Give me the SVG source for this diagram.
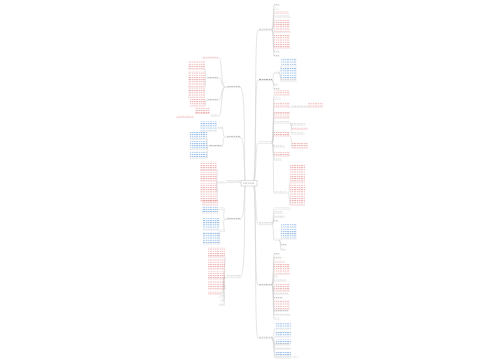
<svg xmlns="http://www.w3.org/2000/svg" width="500" height="360" viewBox="0 0 500 360">
<defs>
<pattern id="pr" width="7" height="2.2" patternUnits="userSpaceOnUse"><rect width="2.2" height="0.9" fill="#e07c7c"/><rect x="2.9" width="1.6" height="0.9" fill="#e07c7c"/><rect x="5" width="1.5" height="0.9" fill="#e07c7c"/></pattern>
<pattern id="pb" width="7" height="2.2" patternUnits="userSpaceOnUse"><rect width="2.2" height="0.9" fill="#4f8fd6"/><rect x="2.9" width="1.6" height="0.9" fill="#4f8fd6"/><rect x="5" width="1.5" height="0.9" fill="#4f8fd6"/></pattern>
<pattern id="pg" width="7" height="2.2" patternUnits="userSpaceOnUse"><rect width="2.2" height="0.9" fill="#777"/><rect x="2.9" width="1.6" height="0.9" fill="#777"/><rect x="5" width="1.5" height="0.9" fill="#777"/></pattern>
</defs>
<style>
.ln{fill:none;stroke:#d4d4d4;stroke-width:0.6}
.r{fill:url(#pr);opacity:.6}
.b{fill:url(#pb);opacity:.6}
.g{fill:url(#pg);opacity:.55}
.lb{fill:url(#pg);opacity:.7}
.ul{stroke:#d6d6d6;stroke-width:0.5}
.ulr{stroke:#eab0b0;stroke-width:0.5}
</style>
<rect width="500" height="360" fill="#fff"/>
<g id="connectors">
<path class="ln" d="M246,183 C243,183 247,87 240,87"/>
<path class="ln" d="M246,183 C243,183 246,137 240,137"/>
<path class="ln" d="M241,183 L240,182"/>
<path class="ln" d="M246,184 C243,184 246,219 240,219"/>
<path class="ln" d="M246,184 C243,184 247,277 240,277"/>
<path class="ln" d="M253,183 C257,183 254,30 258,30"/>
<path class="ln" d="M253,183 C257,183 254,80 258,80"/>
<path class="ln" d="M253,183 C257,183 255,143 258,143"/>
<path class="ln" d="M253,183 C257,183 255,224 258,224"/>
<path class="ln" d="M253,183 C257,183 254,285 258,285"/>
<path class="ln" d="M253,183 C257,183 254,338 258,338"/>
<path class="ln" d="M225,87 C221,87 222,58 219,58"/>
<path class="ln" d="M225,87 C221,87 222,78 219,78"/>
<path class="ln" d="M225,87 C221,87 222,100 219,100"/>
<path class="ln" d="M225,87 C221,87 222,116 219,116"/>
<path class="ln" d="M206,78 C205,78 206,69 205,69"/>
<path class="ln" d="M206,78 C205,78 206,87 205,87"/>
<path class="ln" d="M206,100 C205,100 206,106 205,106"/>
<path class="ln" d="M225,137 C222,137 224,128 222,128"/>
<path class="ln" d="M225,137 C222,137 224,146 222,146"/>
<path class="ln" d="M208,146 C206,146 208,139 207,139"/>
<path class="ln" d="M208,146 C206,146 208,149 207,149"/>
<path class="ln" d="M208,146 C206,146 208,158 207,158"/>
<path class="ln" d="M217,183 C216,183 218,170 217,170"/>
<path class="ln" d="M217,183 C216,183 218,181 217,181"/>
<path class="ln" d="M217,183 C216,183 218,192 217,192"/>
<path class="ln" d="M217,183 C216,183 218,201 217,201"/>
<path class="ln" d="M225,219 C222,219 225,209 224,209"/>
<path class="ln" d="M225,219 C222,219 225,231 224,231"/>
<path class="ln" d="M220,231 C219,231 220,244 220,244"/>
<path class="ln" d="M225,277 C222,277 226,257 225,257"/>
<path class="ln" d="M225,277 C222,277 226,269 225,269"/>
<path class="ln" d="M225,277 C222,277 226,279 225,279"/>
<path class="ln" d="M225,277 C222,277 226,289 225,289"/>
<path class="ln" d="M225,277 C222,277 224,294 222,294"/>
<path class="ln" d="M225,277 C222,277 225,297 224,297"/>
<path class="ln" d="M225,277 C222,277 225,301 224,301"/>
<path class="ln" d="M225,277 C222,277 225,305 224,305"/>
<path class="ln" d="M272,30 C274,30 273,5 274,5"/>
<path class="ln" d="M272,30 C274,30 273,9 274,9"/>
<path class="ln" d="M272,30 C274,30 273,13 274,13"/>
<path class="ln" d="M272,30 C274,30 273,17 274,17"/>
<path class="ln" d="M272,30 C274,30 273,32 274,32"/>
<path class="ln" d="M272,30 C274,30 273,48 274,48"/>
<path class="ln" d="M272,30 C274,30 273,52 274,52"/>
<path class="ln" d="M272,30 C274,30 273,56 274,56"/>
<path class="ln" d="M272,80 C274,80 273,73 274,73"/>
<path class="ln" d="M279,73 C281,73 280,66 281,66"/>
<path class="ln" d="M279,73 C281,73 280,79 281,79"/>
<path class="ln" d="M279,73 C281,73 280,81 281,81"/>
<path class="ln" d="M272,80 C274,80 273,85 274,85"/>
<path class="ln" d="M272,80 C274,80 273,89 274,89"/>
<path class="ln" d="M272,143 C274,143 273,95 274,95"/>
<path class="ln" d="M272,143 C274,143 273,99 274,99"/>
<path class="ln" d="M272,143 C274,143 273,107 274,107"/>
<path class="ln" d="M272,143 C274,143 273,113 274,113"/>
<path class="ln" d="M272,143 C274,143 273,118 274,118"/>
<path class="ln" d="M272,143 C274,143 273,123 274,123"/>
<path class="ln" d="M272,143 C274,143 273,136 274,136"/>
<path class="ln" d="M272,143 C274,143 273,147 274,147"/>
<path class="ln" d="M272,143 C274,143 273,156 274,156"/>
<path class="ln" d="M272,143 C274,143 273,160 274,160"/>
<path class="ln" d="M272,143 C274,143 273,193 274,193"/>
<path class="ln" d="M290,123 C292,123 291,125 292,125"/>
<path class="ln" d="M290,123 C292,123 291,129 292,129"/>
<path class="ln" d="M290,123 C292,123 291,134 292,134"/>
<path class="ln" d="M290,136 C292,136 291,148 292,148"/>
<path class="ln" d="M288,193 C290,193 289,182 290,182"/>
<path class="ln" d="M288,193 C290,193 289,205 290,205"/>
<path class="ln" d="M272,224 C274,224 273,209 274,209"/>
<path class="ln" d="M272,224 C274,224 273,213 274,213"/>
<path class="ln" d="M272,224 C274,224 273,217 274,217"/>
<path class="ln" d="M272,224 C274,224 273,221 274,221"/>
<path class="ln" d="M272,224 C274,224 273,240 274,240"/>
<path class="ln" d="M279,240 C281,240 280,239 281,239"/>
<path class="ln" d="M279,240 C281,240 280,245 281,245"/>
<path class="ln" d="M279,240 C281,240 280,250 281,250"/>
<path class="ln" d="M272,285 C274,285 273,254 274,254"/>
<path class="ln" d="M272,285 C274,285 273,258 274,258"/>
<path class="ln" d="M272,285 C274,285 273,262 274,262"/>
<path class="ln" d="M272,285 C274,285 273,274 274,274"/>
<path class="ln" d="M272,285 C274,285 273,277 274,277"/>
<path class="ln" d="M272,285 C274,285 273,281 274,281"/>
<path class="ln" d="M272,285 C274,285 273,291 274,291"/>
<path class="ln" d="M272,285 C274,285 273,294 274,294"/>
<path class="ln" d="M272,285 C274,285 273,298 274,298"/>
<path class="ln" d="M272,285 C274,285 273,309 274,309"/>
<path class="ln" d="M272,285 C274,285 273,311 274,311"/>
<path class="ln" d="M272,285 C274,285 273,315 274,315"/>
<path class="ln" d="M272,285 C274,285 273,319 274,319"/>
<path class="ln" d="M272,338 C274,338 274,329 275,329"/>
<path class="ln" d="M272,338 C274,338 274,337 275,337"/>
<path class="ln" d="M272,338 C274,338 274,344 275,344"/>
<path class="ln" d="M272,338 C274,338 274,345 275,345"/>
<path class="ln" d="M272,338 C274,338 274,349 275,349"/>
<path class="ln" d="M272,338 C274,338 274,356 275,356"/>
<path class="ln" d="M272,338 C274,338 274,358 275,358"/>
</g>
<g id="center">
<rect x="241" y="180.5" width="16" height="5.5" fill="#fff" stroke="#bdbdbd" stroke-width="0.5"/>
<rect class="lb" x="243" y="182.3" width="12" height="1.6"/>
</g>
<g id="left1">
<rect class="lb" x="226" y="85.6" width="14" height="1.4"/><line class="ul" x1="225" y1="87.6" x2="241" y2="87.6"/>
<rect class="r" x="203" y="56" width="15" height="1.4"/><line class="ulr" x1="202" y1="58" x2="219" y2="58"/>
<rect class="r" x="188" y="61" width="17" height="7.5"/><line class="ulr" x1="188" y1="69" x2="205" y2="69"/>
<rect class="g" x="207" y="76.6" width="11" height="1.4"/><line class="ul" x1="206" y1="78.3" x2="219" y2="78.3"/>
<rect class="r" x="188" y="71" width="17" height="15.5"/><line class="ulr" x1="188" y1="87" x2="205" y2="87"/>
<rect class="r" x="188" y="88.5" width="17" height="8.5"/><line class="ulr" x1="188" y1="97.4" x2="205" y2="97.4"/>
<rect class="g" x="207" y="98.6" width="11" height="1.4"/><line class="ul" x1="206" y1="100.3" x2="219" y2="100.3"/>
<rect class="r" x="190" y="99" width="15" height="6.5"/><line class="ulr" x1="190" y1="106" x2="205" y2="106"/>
<rect class="r" x="195" y="107" width="15" height="6"/><line class="ulr" x1="195" y1="113.5" x2="210" y2="113.5"/>
<rect class="g" x="211" y="114.6" width="7" height="1.4"/><line class="ul" x1="210" y1="116.3" x2="219" y2="116.3"/>
<rect class="r" x="177" y="115.6" width="16" height="1.4"/><line class="ulr" x1="176" y1="117.4" x2="194" y2="117.4"/>
</g>
<g id="left2">
<rect class="lb" x="226" y="135.6" width="14" height="1.4"/><line class="ul" x1="225" y1="137.6" x2="241" y2="137.6"/>
<rect class="g" x="218" y="126.6" width="5" height="1.4"/><line class="ul" x1="217" y1="128.3" x2="223" y2="128.3"/>
<rect class="b" x="200" y="121.5" width="17" height="9"/><line class="ul" x1="200" y1="131" x2="217" y2="131"/>
<rect class="g" x="209" y="144.6" width="13" height="1.4"/><line class="ul" x1="208" y1="146.3" x2="223" y2="146.3"/>
<rect class="b" x="190" y="131.5" width="17" height="7.5"/><line class="ul" x1="190" y1="139.4" x2="207" y2="139.4"/>
<rect class="b" x="190" y="141" width="17" height="8"/><line class="ul" x1="190" y1="149.4" x2="207" y2="149.4"/>
<rect class="b" x="190" y="151" width="17" height="7"/><line class="ul" x1="190" y1="158.4" x2="207" y2="158.4"/>
</g>
<g id="left3">
<rect class="lb" x="226" y="180.6" width="14" height="1.4"/><line class="ul" x1="225" y1="182.6" x2="241" y2="182.6"/>
<rect class="g" x="218" y="181" width="6" height="1.4"/><line class="ul" x1="217" y1="183" x2="225" y2="183"/>
<rect class="r" x="200" y="161.5" width="17" height="8.5"/><line class="ulr" x1="200" y1="170.4" x2="217" y2="170.4"/>
<rect class="r" x="200" y="172" width="17" height="8.5"/><line class="ulr" x1="200" y1="181" x2="217" y2="181"/>
<rect class="r" x="200" y="183" width="17" height="8.5"/><line class="ulr" x1="200" y1="192" x2="217" y2="192"/>
<rect class="r" x="200" y="193.5" width="17" height="7"/><line class="ulr" x1="200" y1="201" x2="217" y2="201"/>
</g>
<g id="left4">
<rect class="lb" x="226" y="217.6" width="14" height="1.4"/><line class="ul" x1="225" y1="219.6" x2="241" y2="219.6"/>
<rect class="g" x="219" y="207.6" width="5" height="1.4"/><line class="ul" x1="218" y1="209.3" x2="225" y2="209.3"/>
<rect class="g" x="221" y="229.6" width="3" height="1.4"/><line class="ul" x1="220" y1="231.3" x2="225" y2="231.3"/>
<rect class="r" x="202" y="200" width="16" height="4.5"/><line class="ulr" x1="202" y1="205" x2="218" y2="205"/>
<rect class="b" x="202" y="206" width="16" height="6.5"/><line class="ul" x1="202" y1="213" x2="218" y2="213"/>
<rect class="b" x="203" y="218" width="17" height="11.5"/><line class="ul" x1="203" y1="230" x2="220" y2="230"/>
<rect class="b" x="203" y="232" width="17" height="11.5"/><line class="ul" x1="203" y1="244" x2="220" y2="244"/>
</g>
<g id="left5">
<rect class="lb" x="226" y="275.6" width="14" height="1.4"/><line class="ul" x1="225" y1="277.6" x2="241" y2="277.6"/>
<rect class="r" x="208" y="247" width="17" height="9.5"/><line class="ulr" x1="208" y1="257" x2="225" y2="257"/>
<rect class="r" x="208" y="259" width="17" height="9.5"/><line class="ulr" x1="208" y1="269" x2="225" y2="269"/>
<rect class="r" x="208" y="271" width="17" height="7.5"/><line class="ulr" x1="208" y1="279" x2="225" y2="279"/>
<rect class="r" x="208" y="281" width="17" height="7.5"/><line class="ulr" x1="208" y1="289" x2="225" y2="289"/>
<rect class="r" x="208" y="291" width="14" height="2.5"/><line class="ulr" x1="208" y1="294" x2="222" y2="294"/>
<rect class="g" x="219" y="295.6" width="5" height="1.2"/><line class="ul" x1="218" y1="297.2" x2="225" y2="297.2"/>
<rect class="g" x="221" y="299.6" width="3" height="1.2"/><line class="ul" x1="220" y1="301.2" x2="225" y2="301.2"/>
<rect class="g" x="219" y="303.6" width="5" height="1.2"/><line class="ul" x1="218" y1="305.2" x2="225" y2="305.2"/>
</g>
<g id="right1">
<rect class="lb" x="259" y="28.6" width="13" height="1.4"/><line class="ul" x1="258" y1="30.6" x2="273" y2="30.6"/>
<rect class="g" x="274" y="3.6" width="5" height="1.2"/><line class="ul" x1="274" y1="5.2" x2="280" y2="5.2"/>
<rect class="g" x="274" y="7.6" width="4" height="1.2"/><line class="ul" x1="274" y1="9.2" x2="279" y2="9.2"/>
<rect class="r" x="274" y="11.6" width="14" height="1.2"/><line class="ulr" x1="274" y1="13.2" x2="289" y2="13.2"/>
<rect class="g" x="274" y="15.6" width="16" height="1.2"/><line class="ul" x1="274" y1="17.2" x2="291" y2="17.2"/>
<rect class="r" x="274" y="19" width="16" height="12.5"/><line class="ulr" x1="274" y1="32" x2="291" y2="32"/>
<rect class="r" x="274" y="35" width="16" height="12.5"/><line class="ulr" x1="274" y1="48" x2="291" y2="48"/>
<rect class="g" x="274" y="50.6" width="5" height="1.2"/><line class="ul" x1="274" y1="52.2" x2="280" y2="52.2"/>
<rect class="g" x="274" y="54.6" width="5" height="1.2"/><line class="ul" x1="274" y1="56.2" x2="280" y2="56.2"/>
</g>
<g id="right2">
<rect class="lb" x="259" y="78.6" width="13" height="1.4"/><line class="ul" x1="258" y1="80.6" x2="273" y2="80.6"/>
<rect class="g" x="274" y="71.6" width="5" height="1.2"/><line class="ul" x1="274" y1="73.2" x2="280" y2="73.2"/>
<rect class="b" x="281" y="58" width="16" height="7.5"/><line class="ul" x1="281" y1="66" x2="297" y2="66"/>
<rect class="b" x="281" y="67" width="16" height="11.5"/><line class="ul" x1="281" y1="79" x2="297" y2="79"/>
<rect class="g" x="281" y="79.6" width="15" height="1.2"/><line class="ul" x1="281" y1="81.2" x2="297" y2="81.2"/>
<rect class="g" x="274" y="83.6" width="3" height="1.2"/><line class="ul" x1="274" y1="85.2" x2="278" y2="85.2"/>
<rect class="g" x="274" y="87.6" width="5" height="1.2"/><line class="ul" x1="274" y1="89.2" x2="280" y2="89.2"/>
</g>
<g id="right3">
<rect class="lb" x="259" y="141.6" width="13" height="1.4"/><line class="ul" x1="258" y1="143.6" x2="273" y2="143.6"/>
<rect class="r" x="274" y="90.5" width="16" height="4"/><line class="ulr" x1="274" y1="95" x2="290" y2="95"/>
<rect class="g" x="274" y="97.6" width="6" height="1.2"/><line class="ul" x1="274" y1="99.2" x2="281" y2="99.2"/>
<rect class="r" x="274" y="102.5" width="16" height="4"/><line class="ulr" x1="274" y1="107" x2="290" y2="107"/>
<rect class="g" x="292" y="105.6" width="15" height="1.2"/><line class="ul" x1="290" y1="107.2" x2="307" y2="107.2"/>
<rect class="r" x="308" y="102.5" width="15" height="4"/><line class="ulr" x1="307" y1="107" x2="323" y2="107"/>
<rect class="r" x="274" y="111.6" width="16" height="1.2"/><line class="ulr" x1="274" y1="113.2" x2="290" y2="113.2"/>
<rect class="r" x="274" y="114.5" width="16" height="3"/><line class="ulr" x1="274" y1="118" x2="290" y2="118"/>
<rect class="g" x="274" y="121.6" width="16" height="1.2"/><line class="ul" x1="274" y1="123.2" x2="290" y2="123.2"/>
<rect class="g" x="292" y="123.6" width="13" height="1.2"/><line class="ul" x1="292" y1="125.2" x2="306" y2="125.2"/>
<rect class="r" x="292" y="127.6" width="16" height="1.2"/><line class="ulr" x1="292" y1="129.2" x2="308" y2="129.2"/>
<rect class="g" x="292" y="132.6" width="12" height="1.2"/><line class="ul" x1="292" y1="134.2" x2="305" y2="134.2"/>
<rect class="r" x="274" y="132" width="16" height="3.5"/><line class="ulr" x1="274" y1="136" x2="290" y2="136"/>
<rect class="r" x="292" y="143" width="16" height="4.5"/><line class="ulr" x1="292" y1="148" x2="308" y2="148"/>
<rect class="g" x="274" y="145.6" width="10" height="1.2"/><line class="ul" x1="274" y1="147.2" x2="285" y2="147.2"/>
<rect class="r" x="274" y="151.5" width="16" height="4"/><line class="ulr" x1="274" y1="156" x2="290" y2="156"/>
<rect class="g" x="274" y="158.6" width="7" height="1.2"/><line class="ul" x1="274" y1="160.2" x2="282" y2="160.2"/>
<rect class="r" x="290" y="164" width="15" height="17.5"/><line class="ulr" x1="290" y1="182" x2="305" y2="182"/>
<rect class="r" x="290" y="183.5" width="15" height="21"/><line class="ulr" x1="290" y1="205" x2="305" y2="205"/>
<rect class="g" x="274" y="191.6" width="13" height="1.2"/><line class="ul" x1="274" y1="193.2" x2="288" y2="193.2"/>
</g>
<g id="right4">
<rect class="lb" x="259" y="222.6" width="13" height="1.4"/><line class="ul" x1="258" y1="224.6" x2="273" y2="224.6"/>
<rect class="g" x="274" y="207.6" width="16" height="1.2"/><line class="ul" x1="274" y1="209.2" x2="291" y2="209.2"/>
<rect class="g" x="274" y="211.6" width="8" height="1.2"/><line class="ul" x1="274" y1="213.2" x2="283" y2="213.2"/>
<rect class="g" x="274" y="215.6" width="10" height="1.2"/><line class="ul" x1="274" y1="217.2" x2="285" y2="217.2"/>
<rect class="g" x="274" y="219.6" width="4" height="1.2"/><line class="ul" x1="274" y1="221.2" x2="279" y2="221.2"/>
<rect class="b" x="281" y="224" width="16" height="14.5"/><line class="ul" x1="281" y1="239" x2="297" y2="239"/>
<rect class="g" x="274" y="238.6" width="5" height="1.2"/><line class="ul" x1="274" y1="240.2" x2="280" y2="240.2"/>
<rect class="g" x="281" y="243.6" width="5" height="1.2"/><line class="ul" x1="281" y1="245.2" x2="287" y2="245.2"/>
<rect class="g" x="281" y="248.6" width="4" height="1.2"/><line class="ul" x1="281" y1="250.2" x2="286" y2="250.2"/>
</g>
<g id="right5">
<rect class="lb" x="259" y="283.6" width="13" height="1.4"/><line class="ul" x1="258" y1="285.6" x2="273" y2="285.6"/>
<rect class="g" x="274" y="252.6" width="5" height="1.2"/><line class="ul" x1="274" y1="254.2" x2="280" y2="254.2"/>
<rect class="g" x="274" y="256.6" width="7" height="1.2"/><line class="ul" x1="274" y1="258.2" x2="282" y2="258.2"/>
<rect class="r" x="274" y="260.6" width="10" height="1.2"/><line class="ulr" x1="274" y1="262.2" x2="285" y2="262.2"/>
<rect class="r" x="274" y="264" width="16" height="9.5"/><line class="ulr" x1="274" y1="274" x2="290" y2="274"/>
<rect class="g" x="274" y="275.6" width="3" height="1.2"/><line class="ul" x1="274" y1="277.2" x2="278" y2="277.2"/>
<rect class="g" x="274" y="279.6" width="12" height="1.2"/><line class="ul" x1="274" y1="281.2" x2="287" y2="281.2"/>
<rect class="r" x="274" y="283" width="16" height="7.5"/><line class="ulr" x1="274" y1="291" x2="290" y2="291"/>
<rect class="g" x="274" y="292.6" width="14" height="1.2"/><line class="ul" x1="274" y1="294.2" x2="289" y2="294.2"/>
<rect class="g" x="274" y="296.6" width="8" height="1.2"/><line class="ul" x1="274" y1="298.2" x2="283" y2="298.2"/>
<rect class="r" x="274" y="300" width="16" height="8.5"/><line class="ulr" x1="274" y1="309" x2="290" y2="309"/>
<rect class="g" x="274" y="309.6" width="14" height="1.2"/><line class="ul" x1="274" y1="311.2" x2="289" y2="311.2"/>
<rect class="g" x="274" y="313.6" width="16" height="1.2"/><line class="ul" x1="274" y1="315.2" x2="291" y2="315.2"/>
<rect class="g" x="274" y="317.6" width="5" height="1.2"/><line class="ul" x1="274" y1="319.2" x2="280" y2="319.2"/>
</g>
<g id="right6">
<rect class="lb" x="259" y="336.6" width="13" height="1.4"/><line class="ul" x1="258" y1="338.6" x2="273" y2="338.6"/>
<rect class="b" x="275" y="323" width="16" height="5.5"/><line class="ul" x1="275" y1="329" x2="291" y2="329"/>
<rect class="b" x="275" y="331" width="16" height="5.5"/><line class="ul" x1="275" y1="337" x2="291" y2="337"/>
<rect class="b" x="275" y="339.5" width="16" height="4"/><line class="ul" x1="275" y1="344" x2="291" y2="344"/>
<rect class="g" x="275" y="343.6" width="14" height="1.2"/><line class="ul" x1="275" y1="345.2" x2="290" y2="345.2"/>
<rect class="g" x="275" y="347.6" width="16" height="1.2"/><line class="ul" x1="275" y1="349.2" x2="291" y2="349.2"/>
<rect class="b" x="275" y="351" width="16" height="4.5"/><line class="ul" x1="275" y1="356" x2="291" y2="356"/>
<rect class="g" x="275" y="356.6" width="16" height="1.2"/><line class="ul" x1="275" y1="358.2" x2="291" y2="358.2"/>
<rect class="g" x="292" y="356.6" width="6" height="1.2"/>
</g>
</svg>
